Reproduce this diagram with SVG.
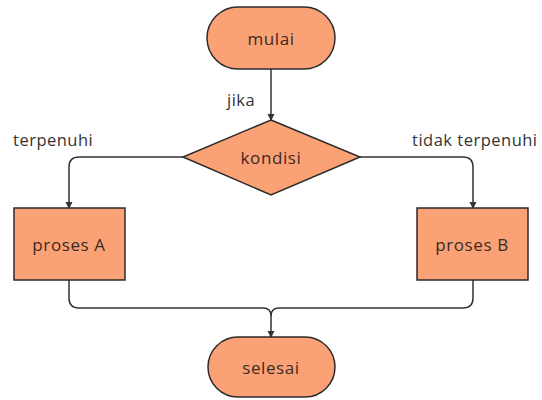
<svg xmlns="http://www.w3.org/2000/svg" width="542" height="400" viewBox="0 0 542 400">
<style>
.n{fill:#FAA276;stroke:#2b2b2b;stroke-width:1.5}
.t{font-family:"Open Sans","Liberation Sans",sans-serif;font-size:17px;letter-spacing:0.6px;fill:#3a2a22;text-anchor:middle;dominant-baseline:central}
.l{font-family:"Open Sans","Liberation Sans",sans-serif;font-size:16.5px;letter-spacing:0.5px;fill:#333}
.c{fill:none;stroke:#333;stroke-width:1.5}
</style>
<defs>
<marker id="a" markerWidth="8" markerHeight="8" refX="6" refY="4" orient="auto" markerUnits="userSpaceOnUse">
<path d="M0,0.5 L7,4 L0,7.5 Z" fill="#333"/>
</marker>
</defs>
<rect width="542" height="400" fill="#fff"/>
<g id="connectors">
<path class="c" d="M271,69 V120" marker-end="url(#a)"/>
<path class="c" d="M183,157 H79 Q69,157 69,167 V208" marker-end="url(#a)"/>
<path class="c" d="M360,157 H463 Q473,157 473,167 V208" marker-end="url(#a)"/>
<path class="c" d="M69,280 V298 Q69,308 79,308 H263 Q271,308 271,316 V337" marker-end="url(#a)"/>
<path class="c" d="M473,280 V298 Q473,308 463,308 H279 Q271,308 271,316"/>
<text class="l" x="227" y="106">jika</text>
<text class="l" x="13" y="146">terpenuhi</text>
<text class="l" x="412" y="146">tidak terpenuhi</text>
</g>
<g id="mulai">
<rect class="n" x="207" y="7" width="128" height="62" rx="31"/>
<text class="t" x="271" y="38">mulai</text>
</g>
<g id="kondisi">
<polygon class="n" points="271,120 360,157 271,195 183,157"/>
<text class="t" x="271" y="157">kondisi</text>
</g>
<g id="prosesA">
<rect class="n" x="14" y="208" width="111" height="72"/>
<text class="t" x="69" y="244">proses A</text>
</g>
<g id="prosesB">
<rect class="n" x="417" y="208" width="111" height="72"/>
<text class="t" x="472" y="244">proses B</text>
</g>
<g id="selesai">
<rect class="n" x="208" y="337" width="127" height="60" rx="30"/>
<text class="t" x="271" y="367">selesai</text>
</g>
</svg>
